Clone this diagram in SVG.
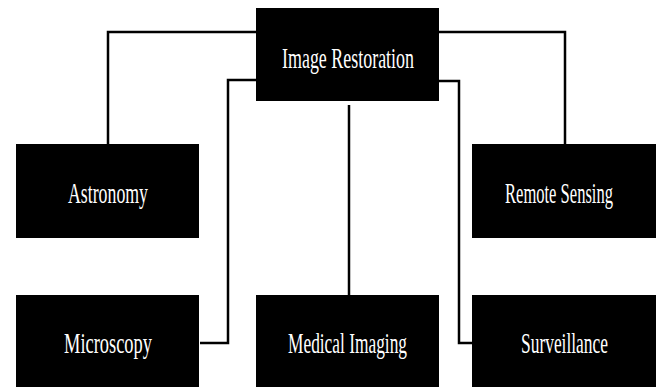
<svg xmlns="http://www.w3.org/2000/svg" width="656" height="387" viewBox="0 0 656 387">
  <style>
    .box { fill: #000; }
    .label { fill: #fff; font-family: "Liberation Serif", "Times New Roman", serif; font-size: 29px; text-anchor: middle; }
    .wire { fill: none; stroke: #000; stroke-width: 2.5; stroke-linejoin: miter; }
  </style>
  <rect width="656" height="387" fill="#fff"/>

  <!-- connectors -->
  <g id="connectors">
    <path class="wire" d="M256 32 H108 V144"/>
    <path class="wire" d="M256 80 H228 V343 H200"/>
    <path class="wire" d="M439 32 H565 V144"/>
    <path class="wire" d="M439 81 H459 V343 H472"/>
    <path class="wire" d="M349 105 V295"/>
  </g>

  <g id="image-restoration">
    <rect class="box" x="256" y="8" width="183" height="93"/>
    <text class="label" x="348" y="68" textLength="132" lengthAdjust="spacingAndGlyphs">Image Restoration</text>
  </g>
  <g id="astronomy">
    <rect class="box" x="16" y="144" width="183" height="94"/>
    <text class="label" x="108" y="203" textLength="80" lengthAdjust="spacingAndGlyphs">Astronomy</text>
  </g>
  <g id="remote-sensing">
    <rect class="box" x="472" y="144" width="184" height="94"/>
    <text class="label" x="559" y="203" textLength="108" lengthAdjust="spacingAndGlyphs">Remote Sensing</text>
  </g>
  <g id="microscopy">
    <rect class="box" x="16" y="295" width="183" height="92"/>
    <text class="label" x="108" y="353" textLength="88" lengthAdjust="spacingAndGlyphs">Microscopy</text>
  </g>
  <g id="medical-imaging">
    <rect class="box" x="256" y="295" width="183" height="92"/>
    <text class="label" x="347.5" y="353" textLength="119" lengthAdjust="spacingAndGlyphs">Medical Imaging</text>
  </g>
  <g id="surveillance">
    <rect class="box" x="472" y="295" width="184" height="92"/>
    <text class="label" x="564.5" y="353" textLength="87" lengthAdjust="spacingAndGlyphs">Surveillance</text>
  </g>
</svg>
